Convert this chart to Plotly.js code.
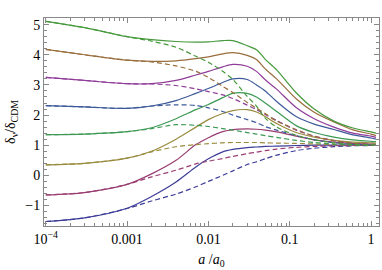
<!DOCTYPE html>
<html><head><meta charset="utf-8">
<script src="https://cdn.plot.ly/plotly-3.0.1.min.js"></script>
<style>html,body{margin:0;padding:0;background:#fff}#c{width:382px;height:270px}</style>
</head><body><div id="c"></div>
<script>
// a / a0 grid
const aVals = [1e-4, 3e-4, 1e-3, 2e-3, 4e-3, 7e-3, 0.01, 0.015, 0.02, 0.03, 0.039, 0.05, 0.069, 0.12, 0.2, 0.35, 0.6, 1, 1.15];

// solid curves (bottom to top)
const solid1 = [-1.53, -1.41, -1.09, -0.7, -0.22, 0.28, 0.55, 0.78, 0.86, 0.92, 0.94, 0.96, 0.97, 0.99, 1.0, 1.0, 1.0, 0.99, 0.99];
const solid2 = [-0.65, -0.57, -0.3, 0.05, 0.5, 1.02, 1.25, 1.45, 1.52, 1.54, 1.53, 1.5, 1.44, 1.3, 1.18, 1.1, 1.06, 1.04, 1.04];
const solid3 = [0.35, 0.40, 0.57, 0.8, 1.2, 1.6, 1.85, 2.05, 2.15, 2.18, 2.1, 1.95, 1.72, 1.42, 1.27, 1.16, 1.1, 1.08, 1.07];
const solid4 = [1.35, 1.37, 1.45, 1.58, 1.88, 2.18, 2.35, 2.58, 2.72, 2.72, 2.6, 2.4, 2.12, 1.65, 1.42, 1.27, 1.18, 1.13, 1.12];
const solid5 = [2.31, 2.27, 2.22, 2.3, 2.48, 2.72, 2.88, 3.08, 3.2, 3.18, 3.0, 2.8, 2.45, 1.95, 1.70, 1.52, 1.34, 1.24, 1.20];
const solid6 = [3.25, 3.15, 3.04, 3.04, 3.15, 3.33, 3.45, 3.6, 3.68, 3.62, 3.45, 3.17, 2.86, 2.25, 1.88, 1.6, 1.4, 1.3, 1.26];
const solid7 = [4.18, 4.0, 3.82, 3.78, 3.8, 3.87, 3.93, 4.03, 4.07, 3.98, 3.84, 3.53, 3.2, 2.54, 2.09, 1.77, 1.51, 1.37, 1.32];
const solid8 = [5.11, 4.9, 4.6, 4.5, 4.44, 4.42, 4.43, 4.47, 4.47, 4.3, 4.17, 3.85, 3.5, 2.74, 2.2, 1.8, 1.57, 1.44, 1.40];

// dashed curves (bottom to top)
const dashed1 = [-1.53, -1.41, -1.1, -0.85, -0.62, -0.38, -0.2, 0.0, 0.15, 0.36, 0.45, 0.55, 0.67, 0.82, 0.9, 0.95, 0.98, 0.99, 0.99];
const dashed2 = [-0.65, -0.57, -0.3, -0.05, 0.17, 0.38, 0.47, 0.56, 0.63, 0.72, 0.77, 0.82, 0.87, 0.93, 0.96, 0.98, 0.99, 1.0, 1.0];
const dashed3 = [0.35, 0.40, 0.57, 0.78, 0.95, 1.02, 1.05, 1.08, 1.09, 1.09, 1.09, 1.08, 1.07, 1.06, 1.04, 1.02, 1.01, 1.01, 1.01];
const dashed4 = [1.35, 1.37, 1.45, 1.55, 1.68, 1.66, 1.62, 1.55, 1.5, 1.42, 1.37, 1.32, 1.26, 1.16, 1.09, 1.04, 1.01, 1.0, 1.0];
const dashed5 = [2.31, 2.27, 2.22, 2.3, 2.34, 2.32, 2.24, 2.12, 2.0, 1.85, 1.75, 1.62, 1.5, 1.32, 1.18, 1.08, 1.03, 1.01, 1.01];
const dashed6 = [3.25, 3.15, 3.04, 3.03, 2.98, 2.87, 2.78, 2.67, 2.55, 2.33, 2.18, 2.02, 1.82, 1.5, 1.3, 1.15, 1.06, 1.03, 1.02];
const dashed7 = [4.18, 4.0, 3.82, 3.76, 3.63, 3.45, 3.25, 2.95, 2.75, 2.42, 2.23, 2.05, 1.8, 1.52, 1.3, 1.15, 1.06, 1.02, 1.02];
const dashed8 = [5.11, 4.9, 4.6, 4.45, 4.25, 3.95, 3.75, 3.45, 3.18, 2.62, 2.3, 1.9, 1.6, 1.33, 1.18, 1.08, 1.03, 1.01, 1.01];

const colors = ['rgb(61,61,153)', 'rgb(153,61,113)', 'rgb(153,139,61)', 'rgb(61,153,84)',
                'rgb(61,90,153)', 'rgb(144,61,153)', 'rgb(153,109,61)', 'rgb(71,153,61)'];

const xTickVals = [1e-4, 1e-3, 1e-2, 1e-1, 1];
const xTickText = ['10<sup>\u22124</sup>', '0.001', '0.01', '0.1', '1'];
const yTickVals = [-1, 0, 1, 2, 3, 4, 5];
const yTickText = ['\u22121', '0', '1', '2', '3', '4', '5'];

// minor tick positions on the log axis: 2..9 times each decade
const xMinorVals = [];
[1e-4, 1e-3, 1e-2, 1e-1, 1].forEach(d => { for (let k = 2; k <= 9; k++) xMinorVals.push(d * k); });

const solids = [solid1, solid2, solid3, solid4, solid5, solid6, solid7, solid8];
const dasheds = [dashed1, dashed2, dashed3, dashed4, dashed5, dashed6, dashed7, dashed8];

const traces = [];
solids.forEach((s, i) => traces.push({x: aVals, y: s, mode: 'lines', type: 'scatter',
  line: {color: colors[i], width: 1.2, shape: 'spline', smoothing: 0.8}, hoverinfo: 'skip'}));
dasheds.forEach((s, i) => traces.push({x: aVals, y: s, mode: 'lines', type: 'scatter',
  line: {color: colors[i], width: 1.2, dash: '5px,3px', shape: 'spline', smoothing: 0.8}, hoverinfo: 'skip'}));

const tickFont = {family: 'Liberation Serif, serif', size: 14, color: '#000'};
const layout = {
  width: 382, height: 270, showlegend: false,
  paper_bgcolor: '#fff', plot_bgcolor: '#fff',
  margin: {l: 44, r: 3, t: 18, b: 44},
  xaxis: {type: 'log', range: [-4.022, 0.098], tickmode: 'array', tickvals: xTickVals, ticktext: xTickText,
    ticks: 'inside', ticklen: 5, tickcolor: '#888', showline: true, linecolor: '#888', linewidth: 1,
    mirror: 'ticks', showgrid: false, zeroline: false, tickfont: tickFont,
    minor: {tickmode: 'array', tickvals: xMinorVals, ticks: 'inside', ticklen: 3, tickcolor: '#888', showgrid: false},
    title: {text: '<i>a</i> /<i>a</i><sub>0</sub>', font: {family: 'Liberation Serif, serif', size: 14, color: '#000'}, standoff: 8}},
  yaxis: {range: [-1.68, 5.22], tickmode: 'array', tickvals: yTickVals, ticktext: yTickText,
    ticks: 'inside', ticklen: 5, tickcolor: '#888', showline: true, linecolor: '#888', linewidth: 1,
    mirror: 'ticks', showgrid: false, zeroline: false, tickfont: tickFont,
    minor: {tickmode: 'linear', dtick: 0.2, tick0: 0, ticks: 'inside', ticklen: 3, tickcolor: '#888', showgrid: false},
    title: {text: '\u03b4<sub>\u03bd</sub>/\u03b4<sub>CDM</sub>', font: {family: 'Liberation Serif, serif', size: 14, color: '#000'}, standoff: 6}}
};
Plotly.newPlot('c', traces, layout, {staticPlot: true, displayModeBar: false});
</script></body></html>
